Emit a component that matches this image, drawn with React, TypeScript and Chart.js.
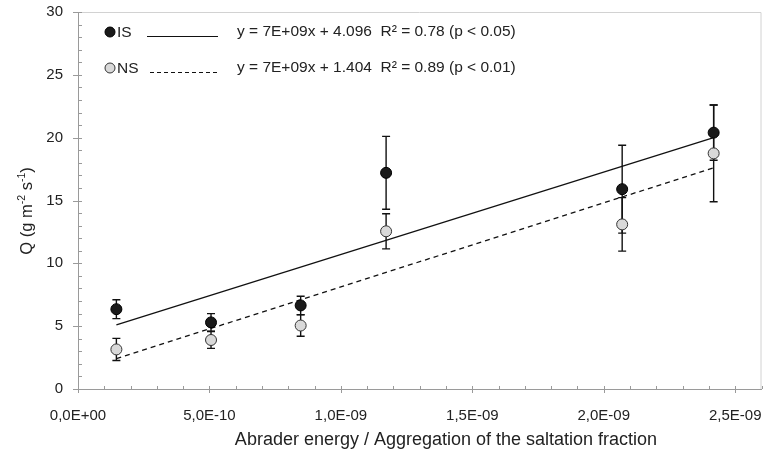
import { useEffect, useRef } from "react";
import { Chart, registerables } from "chart.js";

Chart.register(...registerables);

const xValues = [1.46e-10, 5.06e-10, 8.47e-10, 1.172e-9, 2.07e-9, 2.418e-9];
const isValues = [6.35, 5.3, 6.65, 17.2, 15.9, 20.4];
const isErrors = [0.75, 0.7, 0.73, 2.9, 3.5, 2.2];
const nsValues = [3.15, 3.9, 5.05, 12.55, 13.1, 18.75];
const nsErrors = [0.88, 0.67, 0.85, 1.4, 2.13, 3.85];

const xTickValues = [0, 5e-10, 1e-9, 1.5e-9, 2e-9, 2.5e-9];
const xTickLabels = ["0,0E+00", "5,0E-10", "1,0E-09", "1,5E-09", "2,0E-09", "2,5E-09"];
const yTickValues = [0, 5, 10, 15, 20, 25, 30];
const yTickLabels = ["0", "5", "10", "15", "20", "25", "30"];
const xMin = 0;
const xMax = 2.6e-9;
const xMinorStep = 1e-10;
const yMin = 0;
const yMax = 30;
const yMinorStep = 1;

const seriesNames = ["IS", "NS"];
const equations = [
  "y = 7E+09x + 4.096  R\u00B2 = 0.78 (p < 0.05)",
  "y = 7E+09x + 1.404  R\u00B2 = 0.89 (p < 0.01)",
];
const xTitle = "Abrader energy / Aggregation of the saltation fraction";
const yTitleParts = [
  { t: "Q (g m", sup: false },
  { t: "-2", sup: true },
  { t: " s", sup: false },
  { t: "-1", sup: true },
  { t: ")", sup: false },
];

const FONT = "'Liberation Sans', Arial, Helvetica, sans-serif";
const TEXT = "#222";
const AXIS = "#9a9a9a";
const IS_FILL = "#1a1a1a";
const NS_FILL = "#d9d9d9";

function regressionLine(xs: number[], ys: number[]) {
  const n = xs.length;
  const mx = xs.reduce((a, b) => a + b, 0) / n;
  const my = ys.reduce((a, b) => a + b, 0) / n;
  let sxy = 0;
  let sxx = 0;
  for (let i = 0; i < n; i++) {
    sxy += (xs[i] - mx) * (ys[i] - my);
    sxx += (xs[i] - mx) * (xs[i] - mx);
  }
  const b = sxy / sxx;
  const a = my - b * mx;
  const x0 = Math.min(...xs);
  const x1 = Math.max(...xs);
  return [
    { x: x0, y: a + b * x0 },
    { x: x1, y: a + b * x1 },
  ];
}

const decorPlugin = {
  id: "decor",
  beforeDatasetsDraw(chart: any) {
    const { ctx, chartArea, scales } = chart;
    const xs = scales.x;
    const ys = scales.y;
    ctx.save();
    ctx.strokeStyle = "#d2d2d2";
    ctx.lineWidth = 1;
    ctx.beginPath();
    ctx.moveTo(chartArea.left, chartArea.top + 0.5);
    ctx.lineTo(chartArea.right - 0.5, chartArea.top + 0.5);
    ctx.lineTo(chartArea.right - 0.5, chartArea.bottom);
    ctx.stroke();
    ctx.strokeStyle = AXIS;
    ctx.lineWidth = 1;
    ctx.beginPath();
    const nx = Math.round((xMax - xMin) / xMinorStep);
    for (let i = 0; i <= nx; i++) {
      const v = xMin + i * xMinorStep;
      const px = Math.round(xs.getPixelForValue(v)) + 0.5;
      const major = i % 5 === 0;
      ctx.moveTo(px, chartArea.bottom - 3);
      ctx.lineTo(px, chartArea.bottom + (major ? 4 : 0));
    }
    const ny = Math.round((yMax - yMin) / yMinorStep);
    for (let i = 0; i <= ny; i++) {
      const v = yMin + i * yMinorStep;
      const py = Math.round(ys.getPixelForValue(v)) + 0.5;
      const major = i % 5 === 0;
      ctx.moveTo(chartArea.left + 4, py);
      ctx.lineTo(chartArea.left - (major ? 5 : 0), py);
    }
    ctx.stroke();
    const drawErr = (vals: number[], errs: number[]) => {
      ctx.strokeStyle = "#111";
      ctx.lineWidth = 1.4;
      ctx.beginPath();
      for (let i = 0; i < vals.length; i++) {
        const px = xs.getPixelForValue(xValues[i]);
        const top = ys.getPixelForValue(vals[i] + errs[i]);
        const bot = ys.getPixelForValue(vals[i] - errs[i]);
        ctx.moveTo(px, top);
        ctx.lineTo(px, bot);
        ctx.moveTo(px - 4, top);
        ctx.lineTo(px + 4, top);
        ctx.moveTo(px - 4, bot);
        ctx.lineTo(px + 4, bot);
      }
      ctx.stroke();
    };
    drawErr(nsValues, nsErrors);
    drawErr(isValues, isErrors);
    ctx.restore();
  },
  afterDraw(chart: any) {
    const { ctx } = chart;
    ctx.save();
    ctx.fillStyle = TEXT;
    ctx.textBaseline = "middle";
    const rows = [32, 68];
    ctx.font = `15.5px ${FONT}`;
    rows.forEach((y, i) => {
      ctx.beginPath();
      ctx.arc(110, y, 5, 0, Math.PI * 2);
      ctx.fillStyle = i === 0 ? IS_FILL : NS_FILL;
      ctx.fill();
      ctx.strokeStyle = i === 0 ? "#000" : "#333";
      ctx.lineWidth = 1;
      ctx.stroke();
      ctx.fillStyle = TEXT;
      ctx.textAlign = "left";
      ctx.fillText(seriesNames[i], 117, y + 1);
      ctx.beginPath();
      ctx.strokeStyle = "#111";
      ctx.lineWidth = 1;
      if (i === 1) ctx.setLineDash([4, 3]);
      ctx.moveTo(i === 0 ? 147 : 150, y + 4.5);
      ctx.lineTo(218, y + 4.5);
      ctx.stroke();
      ctx.setLineDash([]);
      ctx.fillText(equations[i], 237, y);
    });
    ctx.font = `18px ${FONT}`;
    ctx.textAlign = "center";
    ctx.fillText(xTitle, 446, 440);
    ctx.translate(27, 211);
    ctx.rotate(-Math.PI / 2);
    const mainFont = `16.5px ${FONT}`;
    const supFont = `10.5px ${FONT}`;
    let total = 0;
    yTitleParts.forEach((p) => {
      ctx.font = p.sup ? supFont : mainFont;
      total += ctx.measureText(p.t).width;
    });
    let cx = -total / 2;
    ctx.textAlign = "left";
    yTitleParts.forEach((p) => {
      ctx.font = p.sup ? supFont : mainFont;
      ctx.fillText(p.t, cx, p.sup ? -5 : 0);
      cx += ctx.measureText(p.t).width;
    });
    ctx.restore();
  },
};

export default function App() {
  const ref = useRef<HTMLCanvasElement | null>(null);
  useEffect(() => {
    if (!ref.current) return;
    const isTrend = regressionLine(xValues, isValues);
    const nsTrend = regressionLine(xValues, nsValues);
    const chart = new Chart(ref.current, {
      type: "scatter",
      data: {
        datasets: [
          {
            label: seriesNames[0],
            data: xValues.map((x, i) => ({ x, y: isValues[i] })),
            backgroundColor: IS_FILL,
            borderColor: "#000",
            borderWidth: 1,
            pointRadius: 5.5,
            order: 1,
          },
          {
            label: seriesNames[1],
            data: xValues.map((x, i) => ({ x, y: nsValues[i] })),
            backgroundColor: NS_FILL,
            borderColor: "#333",
            borderWidth: 1,
            pointRadius: 5.5,
            order: 1,
          },
          {
            type: "line",
            label: "IS trend",
            data: isTrend,
            borderColor: "#111",
            borderWidth: 1.3,
            pointRadius: 0,
            showLine: true,
            fill: false,
            order: 2,
          } as any,
          {
            type: "line",
            label: "NS trend",
            data: nsTrend,
            borderColor: "#111",
            borderWidth: 1.3,
            borderDash: [5, 4],
            pointRadius: 0,
            showLine: true,
            fill: false,
            order: 2,
          } as any,
        ],
      },
      options: {
        animation: false,
        responsive: false,
        layout: { padding: { top: 12, right: 1, left: 0, bottom: 0 } },
        plugins: { legend: { display: false }, tooltip: { enabled: false } },
        scales: {
          x: {
            type: "linear",
            min: xMin,
            max: xMax,
            grid: { display: false, drawTicks: false },
            border: { display: true, color: AXIS, width: 1 },
            afterBuildTicks: (s: any) => {
              s.ticks = xTickValues.map((v) => ({ value: v }));
            },
            ticks: {
              color: TEXT,
              font: { size: 15, family: FONT },
              padding: 18,
              maxRotation: 0,
              autoSkip: false,
              callback: (v: any) => {
                const idx = xTickValues.findIndex((t) => Math.abs(t - Number(v)) < 1e-12);
                return idx >= 0 ? xTickLabels[idx] : "";
              },
            },
            afterFit: (s: any) => {
              s.height = 67;
              s.paddingLeft = 0;
              s.paddingRight = 0;
            },
          },
          y: {
            type: "linear",
            min: yMin,
            max: yMax,
            grid: { display: false, drawTicks: false },
            border: { display: true, color: AXIS, width: 1 },
            afterBuildTicks: (s: any) => {
              s.ticks = yTickValues.map((v) => ({ value: v }));
            },
            ticks: {
              color: TEXT,
              font: { size: 15, family: FONT },
              padding: 15,
              callback: (v: any) => {
                const idx = yTickValues.indexOf(Number(v));
                return idx >= 0 ? yTickLabels[idx] : "";
              },
            },
            afterFit: (s: any) => {
              s.width = 78;
              s.paddingTop = 0;
              s.paddingBottom = 0;
            },
          },
        },
      } as any,
      plugins: [decorPlugin],
    });
    return () => chart.destroy();
  }, []);
  return (
    <div style={{ position: "absolute", left: 0, top: 0, width: 768, height: 456, background: "#fff" }}>
      <canvas ref={ref} width={768} height={456} style={{ display: "block" }} />
    </div>
  );
}
